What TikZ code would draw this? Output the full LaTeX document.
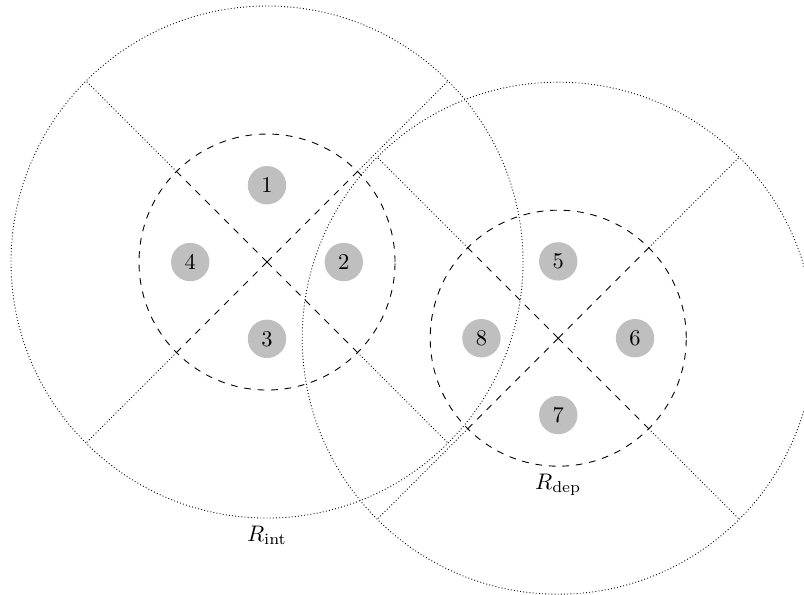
\documentclass[tikz,border=0pt]{standalone}
\usepackage{amsmath}
\usepackage{xcolor}
\usepackage{tikz}
\usetikzlibrary{positioning, calc}
\definecolor{agentgray}{RGB}{191, 191, 191}

\begin{document}
\begin{tikzpicture}[scale=1.0,
    agent/.style={circle, fill=agentgray, minimum size=0.6cm, inner sep=0pt}]
    \useasboundingbox (-4.172,-5.1875) rectangle (8.39,4.094);
    \coordinate (L) at (0,0);
    \coordinate (R) at (4.55,-1.19);
    \foreach \c in {L,R} {
        \draw[dashed] (\c) circle (2);
        \draw[densely dotted] (\c) circle (4);
        \foreach \a in {45,135,225,315} {
            \draw[dashed] (\c) -- ($(\c)+(\a:2)$);
            \draw[densely dotted] ($(\c)+(\a:2)$) -- ($(\c)+(\a:4)$);
        }
    }
    \node[agent] (a1) at ($(L)+(90:1.2)$) {1};
    \node[agent] (a2) at ($(L)+(0:1.2)$) {2};
    \node[agent] (a3) at ($(L)+(270:1.2)$) {3};
    \node[agent] (a4) at ($(L)+(180:1.2)$) {4};
    \node[agent] (a5) at ($(R)+(90:1.2)$) {5};
    \node[agent] (a6) at ($(R)+(0:1.2)$) {6};
    \node[agent] (a7) at ($(R)+(270:1.2)$) {7};
    \node[agent] (a8) at ($(R)+(180:1.2)$) {8};
    \node[below] (rint) at ($(L)+(0,-4)$) {$R_{\text{int}}$};
    \node[below] (rdep) at ($(R)+(0,-2)$) {$R_{\text{dep}}$};
\end{tikzpicture}
\end{document}
